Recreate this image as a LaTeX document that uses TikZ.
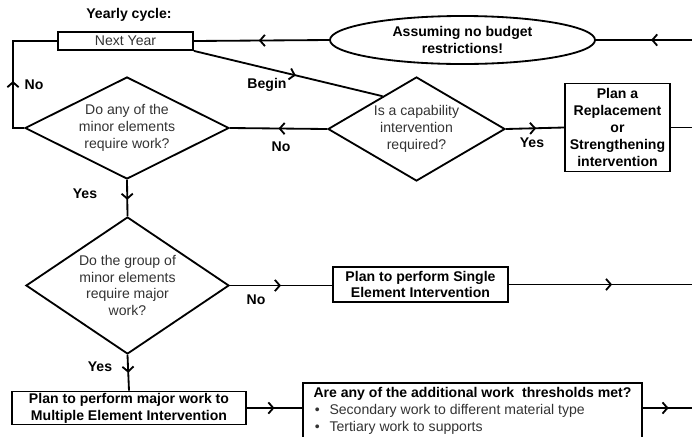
\documentclass[tikz,border=0pt]{standalone}
\usepackage{fontspec}
\setmainfont{Liberation Sans}
\usetikzlibrary{shapes.geometric,arrows.meta,decorations.markings,calc}
\tikzset{
  ln/.style={line width=1.3pt},
  marr/.style={postaction={decorate},decoration={markings,mark=at position #1 with {\arrow[line width=1.3pt]{Straight Barb[length=3.5pt,width=8pt]}}}},
  bbox/.style={draw,line width=1.3pt,inner sep=0pt,align=center,font=\fontsize{10}{12}\selectfont\bfseries},
  dia/.style={draw,diamond,line width=1.3pt,inner sep=0pt,align=center,text=black!80,font=\fontsize{10}{12}\selectfont},
  lbl/.style={font=\fontsize{10}{12}\selectfont\bfseries,inner sep=0pt}
}
\begin{document}
\begin{tikzpicture}[x=0.025cm,y=-0.025cm]
\useasboundingbox (0,0) rectangle (692,436);
\clip (0,0) rectangle (692,436);
% nodes
\node[bbox,font=\fontsize{10}{12}\selectfont,text=black!80,minimum width=3.375cm,minimum height=0.45cm] (ny) at (125.5,41) {Next Year};
\node[bbox,ellipse,minimum width=6.625cm,minimum height=1.2cm] (ell) at (462.5,40) {Assuming no budget\\restrictions!};
\node[dia,shape aspect=2,minimum width=5.1cm,minimum height=2.55cm] (d1) at (127,128) {Do any of the\\minor elements\\require work?};
\node[dia,shape aspect=1.7,minimum width=4.425cm,minimum height=2.6cm] (d2) at (416.5,129) {Is a capability\\intervention\\required?};
\node[bbox,minimum width=2.625cm,minimum height=2.2cm] (rep) at (617.5,127.5) {Plan a\\Replacement\\or\\Strengthening\\intervention};
\node[dia,shape aspect=1.48,minimum width=5.075cm,minimum height=3.425cm] (d3) at (127.5,285.5) {Do the group of\\minor elements\\require major\\work?};
\node[bbox,minimum width=4.375cm,minimum height=0.875cm] (sgl) at (420.5,284.5) {Plan to perform Single\\Element Intervention};
\node[bbox,minimum width=5.85cm,minimum height=0.825cm] (mul) at (129,408) {Plan to perform major work to\\Multiple Element Intervention};
\node[draw,line width=1.3pt,inner xsep=0.2cm,inner ysep=0pt,minimum width=8.475cm,minimum height=1.375cm,align=left,font=\fontsize{10}{12}\selectfont] (thr) at (472.5,410.5)
 {\textbf{Are any of the additional work\ \ thresholds met?}\\
  {\color{black!80}\makebox[0.4cm][l]{\hspace{1pt}\textbullet}Secondary work to different material type}\\
  {\color{black!80}\makebox[0.4cm][l]{\hspace{1pt}\textbullet}Tertiary work to supports}};
% free ends
\coordinate (lx) at (13,0);
\coordinate (r1) at (700,40);
\coordinate (r2) at (700,127.5);
\coordinate (r3) at (700,284.5);
\coordinate (rx) at (700,0);
% connectors
\draw[ln,marr=0.47] (r1) -- (ell.east);
\draw[ln,marr=0.52] (ell.west) -- (ny.east);
\draw[ln,marr=1.45cm] (d1.west) -- (lx |- d1.west) -- (lx |- ny.west) -- (ny.west);
\draw[ln,marr=0.54] (ny.south east) -- ($(d2.west)!0.62!(d2.north)$);
\draw[ln,marr=0.5] (d2.west) -- (d1.east);
\draw[ln,marr=0.52] (d2.east) -- (rep.west);
\draw[ln] (rep.east) -- (r2);
\draw[ln,marr=0.55] (d1.south) -- (d3.north);
\draw[ln,marr=0.5] (d3.east) -- (d3.east -| sgl.west);
\draw[ln,marr=0.54] (sgl.east) -- (r3);
\draw[ln,marr=0.5] (d3.south) -- (mul.north);
\draw[ln,marr=0.5] (mul.east) -- (mul.east -| thr.west);
\draw[ln,marr=0.45] (thr.east |- mul.east) -- (rx |- mul.east);
% labels
\node[lbl] (lyc) at (129,15) {Yearly cycle:};
\node[lbl] (lno1) at (34,85) {No};
\node[lbl] (lbeg) at (267,85) {Begin};
\node[lbl] (lno2) at (281,147) {No};
\node[lbl] (lyes1) at (85,194) {Yes};
\node[lbl] (lyes2) at (532,143) {Yes};
\node[lbl] (lno3) at (256,300) {No};
\node[lbl] (lyes3) at (100,367) {Yes};
\end{tikzpicture}
\end{document}
